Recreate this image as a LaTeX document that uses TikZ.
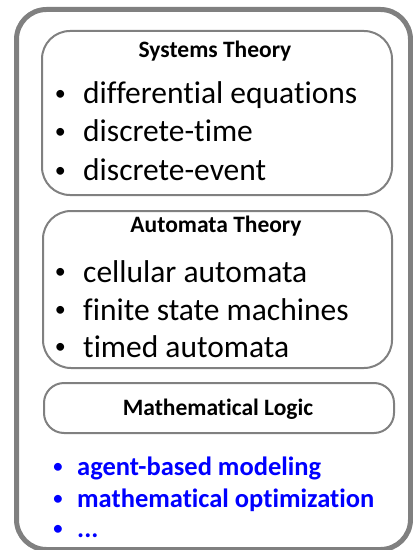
\documentclass[tikz,border=0pt]{standalone}
\usepackage{fontspec}
\setmainfont{Carlito}[Ligatures=NoCommon]
\definecolor{framegray}{RGB}{128,128,128}
\definecolor{itemblue}{RGB}{0,0,255}
\newcommand{\bul}{\llap{\raisebox{0.1em}{\scalebox{0.7}{\textbullet}}\hspace{0.55em}}}
\begin{document}
\begin{tikzpicture}[x=1bp, y=-1bp,
  outer/.style={draw=framegray, line width=5bp, rounded corners=30bp, anchor=north west, inner sep=0},
  panel/.style={draw=framegray, line width=2bp, rounded corners=28bp, anchor=north west, inner sep=0},
  title/.style={anchor=base, inner sep=0, font=\fontsize{23.5bp}{28bp}\selectfont\bfseries},
  item/.style={anchor=base west, inner sep=0, font=\fontsize{31.5bp}{36bp}\selectfont},
  extra/.style={anchor=base west, inner sep=0, text=itemblue, font=\fontsize{26.5bp}{31bp}\selectfont\bfseries}]
  \useasboundingbox (0,0) rectangle (412,550);
  \node[outer, minimum width=394bp, minimum height=540bp] (frame) at (14,7) {};
  \node[panel, minimum width=350bp, minimum height=164bp] (systems) at (41,30) {};
  \node[panel, minimum width=349bp, minimum height=157bp] (automata) at (42,210) {};
  \node[panel, minimum width=350bp, minimum height=50bp, rounded corners=20bp] (logic) at (43,382) {};
  \node[title] (systemstitle) at (215,58) {Systems Theory};
  \node[item] (diffeq) at (83,104) {\bul differential equations};
  \node[item] (disctime) at (83,142) {\bul discrete-time};
  \node[item] (discevent) at (83,181) {\bul discrete-event};
  \node[title] (automatatitle) at (216,232) {Automata Theory};
  \node[item] (cellular) at (83,282) {\bul cellular automata};
  \node[item] (fsm) at (83,320) {\bul finite state machines};
  \node[item] (timed) at (83,357) {\bul timed automata};
  \node[title] (logictitle) at (218,415) {Mathematical Logic};
  \node[extra] (agent) at (77,475) {\bul agent-based modeling};
  \node[extra] (optim) at (77,507) {\bul mathematical optimization};
  \node[extra] (dots) at (77,537) {\bul ...};
\end{tikzpicture}
\end{document}
